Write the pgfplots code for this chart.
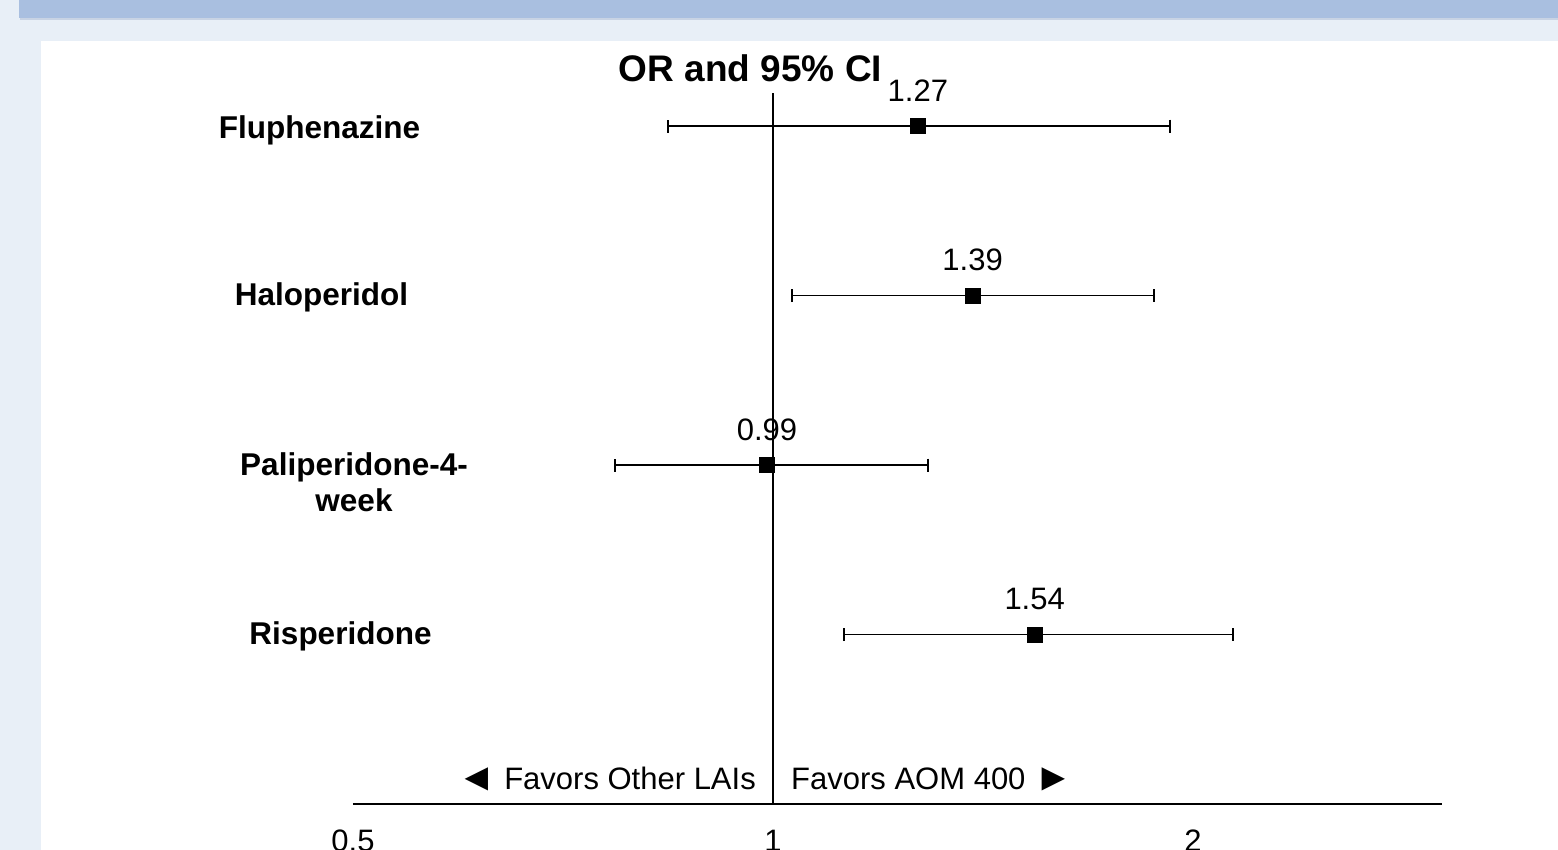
\documentclass[border=0pt]{standalone}
\usepackage{fontspec}
\setmainfont{Liberation Sans}
\usepackage{pgfplots}
\pgfplotsset{compat=1.18}
\usetikzlibrary{arrows.meta}
\definecolor{outerbg}{RGB}{232,239,247}
\definecolor{bandbg}{RGB}{169,191,224}
\newcommand{\lab}{\fontsize{31.5}{36}\selectfont\bfseries}
\newcommand{\reg}{\fontsize{31}{36}\selectfont}
\newcommand{\tri}[1]{{\fontsize{39}{36}\selectfont\raisebox{-1pt}{#1}}}
\begin{document}
\begin{tikzpicture}
\useasboundingbox (0pt,0pt) rectangle (1558pt,850pt);
\clip (0pt,0pt) rectangle (1558pt,850pt);
\fill[outerbg] (0pt,0pt) rectangle (1558pt,850pt);
\fill[bandbg!85!gray!60] (20pt,830pt) rectangle (1558pt,833pt);
\fill[bandbg] (19pt,832pt) rectangle (1558pt,850pt);
\fill[white] (41pt,0pt) rectangle (1558pt,809pt);
% row labels
\node[anchor=base, inner sep=0pt] at (319.5pt,711pt) {\lab Fluphenazine};
\node[anchor=base, inner sep=0pt] at (321.5pt,544pt) {\lab Haloperidol};
\node[anchor=base, inner sep=0pt] at (354pt,374pt) {\lab Paliperidone-4-};
\node[anchor=base, inner sep=0pt] at (354pt,338pt) {\lab week};
\node[anchor=base, inner sep=0pt] at (340.5pt,205pt) {\lab Risperidone};
% title
\node[anchor=base, inner sep=0pt] at (750.5pt,768pt) {\fontsize{37}{42}\selectfont\bfseries OR and 95\% CI};
% favours
\node[anchor=base east, inner sep=0pt] at (756pt,60pt) {\reg \tri{◄} Favors Other LAIs};
\node[anchor=base west, inner sep=0pt] at (791pt,60pt) {\reg Favors AOM 400 \tri{►}};
\begin{axis}[
  at={(353pt,46pt)}, anchor=south west,
  scale only axis, width=1089pt, height=711pt,
  xmode=log, log basis x=2,
  xmin=0.5, xmax=3.016, ymin=0, ymax=4.195,
  axis x line=bottom, axis y line=none,
  x axis line style={-, line width=1.4pt, black},
  xtick={0.5,1,2}, xticklabels={0.5,1,2},
  major tick length=0pt,
  xticklabel style={anchor=base, yshift=-48pt, font=\reg},
  /pgf/number format/assume math mode=true,
  clip=false,
]
\addplot[black, line width=1.5pt] coordinates {(1,0) (1,4.195)};
\addplot[black, line width=1.7pt, {Bar[width=13pt,line width=2.2pt]}-{Bar[width=13pt,line width=2.2pt]}] coordinates {(0.839,4) (1.93,4)};
\addplot[black, line width=1.7pt, {Bar[width=13pt,line width=2.2pt]}-{Bar[width=13pt,line width=2.2pt]}] coordinates {(1.030,3) (1.878,3)};
\addplot[black, line width=1.7pt, {Bar[width=13pt,line width=2.2pt]}-{Bar[width=13pt,line width=2.2pt]}] coordinates {(0.769,2) (1.294,2)};
\addplot[black, line width=1.7pt, {Bar[width=13pt,line width=2.2pt]}-{Bar[width=13pt,line width=2.2pt]}] coordinates {(1.122,1) (2.14,1)};
\addplot[only marks, mark=square*, mark size=7.5pt, black,
  point meta=explicit symbolic, nodes near coords,
  every node near coord/.append style={anchor=base, yshift=25pt, inner sep=0pt, font=\reg}]
  coordinates {(1.27,4)[1.27] (1.39,3)[1.39] (0.99,2)[0.99] (1.54,1)[1.54]};
\end{axis}
\end{tikzpicture}
\end{document}
